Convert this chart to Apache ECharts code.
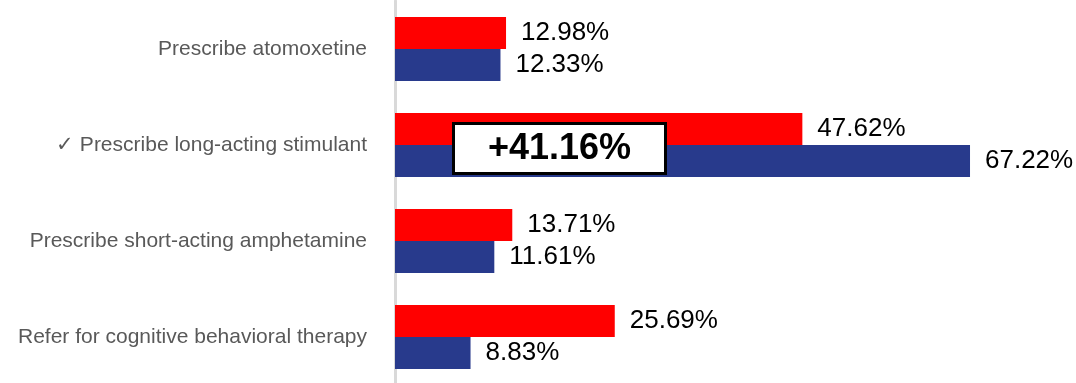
<!DOCTYPE html>
<html>
<head>
<meta charset="utf-8">
<script src="https://cdn.jsdelivr.net/npm/echarts@6/dist/echarts.min.js"></script>
<style>
html,body{margin:0;padding:0;background:#fff;}
#chart{width:1076px;height:383px;}
</style>
</head>
<body>
<div id="chart"></div>
<script>
const categories = [
  'Prescribe atomoxetine',
  '\u2713 Prescribe long-acting stimulant',
  'Prescribe short-acting amphetamine',
  'Refer for cognitive behavioral therapy'
];
const redValues = [12.98, 47.62, 13.71, 25.69];
const blueValues = [12.33, 67.22, 11.61, 8.83];
const highlightIndex = 1;

const FONT = "'Liberation Sans', Arial, sans-serif";
const chart = echarts.init(document.getElementById('chart'), null, {renderer: 'canvas'});

const labelStyle = {
  show: true,
  position: 'right',
  distance: 15,
  fontSize: 26,
  fontFamily: FONT,
  color: '#000',
  formatter: p => p.value.toFixed(2) + '%'
};

const change = (blueValues[highlightIndex] / redValues[highlightIndex] - 1) * 100;

chart.setOption({
  animation: false,
  grid: {left: 395, top: 1, width: 598.8, height: 384, containLabel: false, outerBoundsMode: 'none'},
  xAxis: {
    type: 'value', min: 0, max: 70,
    show: false
  },
  yAxis: {
    type: 'category',
    data: categories,
    inverse: true,
    axisLine: {show: true, lineStyle: {color: '#d9d9d9', width: 3}},
    axisTick: {show: false},
    axisLabel: {
      margin: 28,
      fontSize: 21,
      fontFamily: FONT,
      color: '#595959'
    }
  },
  series: [
    {
      name: 'Red', type: 'bar', data: redValues,
      barWidth: 32, barGap: '0%', barCategoryGap: '33.3%',
      itemStyle: {color: '#ff0000'},
      label: labelStyle
    },
    {
      name: 'Blue', type: 'bar', data: blueValues,
      barWidth: 32, barGap: '0%', barCategoryGap: '33.3%',
      itemStyle: {color: '#283a8c'},
      label: labelStyle
    }
  ],
  graphic: [{
    type: 'group',
    left: 452, top: 122,
    z: 100,
    children: [
      {type: 'rect', z: 100, shape: {x: 0, y: 0, width: 212, height: 50},
       style: {fill: '#fff', stroke: '#000', lineWidth: 3}},
      {type: 'text', z: 101, x: 106, y: 26,
       style: {text: '+' + change.toFixed(2) + '%', fontSize: 36, fontWeight: 'bold',
               fontFamily: FONT, fill: '#000', align: 'center', verticalAlign: 'middle'}}
    ]
  }]
});
</script>
</body>
</html>
